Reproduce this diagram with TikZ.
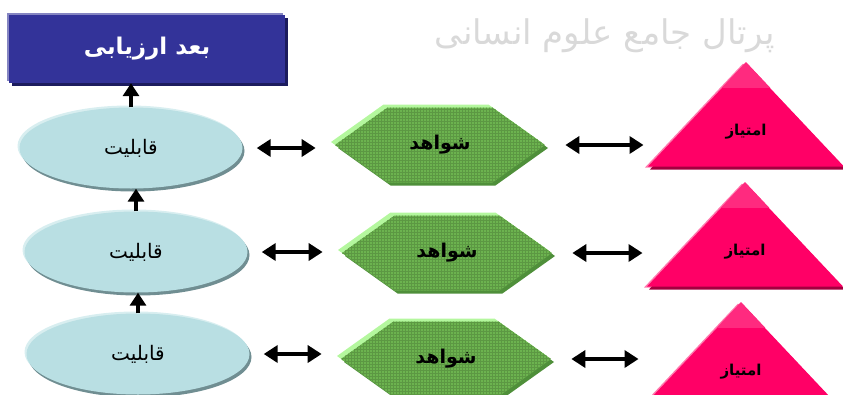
\documentclass[tikz,border=0pt]{standalone}
\usepackage{fontspec}
\usepackage{tikz}
\usetikzlibrary{shapes,shapes.symbols,shapes.geometric,arrows.meta}
\usetikzlibrary{positioning}
\usetikzlibrary{shadows,patterns}
\usetikzlibrary{calc}
\TeXXeTstate=1
\newfontfamily\farsi[Script=Arabic]{DejaVu Sans}
\newcommand{\fatext}[1]{{\farsi\beginR #1\endR}}
\definecolor{titleblue}{HTML}{333399}
\definecolor{titleedge}{HTML}{8585C2}
\definecolor{titleshade}{HTML}{1C1C5E}
\definecolor{ellfill}{HTML}{B9DFE3}
\definecolor{ellshade}{HTML}{708E92}
\definecolor{elledge}{HTML}{D8EEF0}
\definecolor{hexfill}{HTML}{6CB34F}
\definecolor{hexlight}{HTML}{B4F79E}
\definecolor{hexshade}{HTML}{4F8F3A}
\definecolor{trifill}{HTML}{FF0066}
\definecolor{tritop}{HTML}{FF2A7F}
\definecolor{trilight}{HTML}{FF7AAE}
\definecolor{trishade}{HTML}{A3003F}
\tikzstyle{flow} = [draw, line width=3.5pt, -{Triangle[length=13pt,width=16pt]}]
\tikzstyle{dflow} = [draw, line width=3.5pt,
{Triangle[length=14pt,width=17pt]}-{Triangle[length=14pt,width=17pt]}]

\begin{document}
\begin{tikzpicture}[x=1pt, y=-1pt,
	title/.style={fill=titleblue, minimum width=276pt, minimum height=68pt,
		text=white, font=\bfseries\fontsize{23}{27}\selectfont,
		general shadow={fill=titleedge, shadow xshift=-2pt, shadow yshift=2pt},
		general shadow={fill=titleshade, shadow xshift=3pt, shadow yshift=-3pt}},
	ability/.style={ellipse, fill=ellfill, minimum width=223pt, minimum height=81pt,
		font=\fontsize{20}{24}\selectfont,
		general shadow={fill=elledge, shadow xshift=-2pt, shadow yshift=2pt},
		general shadow={fill=ellshade, shadow xshift=2pt, shadow yshift=-3pt}},
	evidence/.style={signal, signal to=west and east, signal pointer angle=71,
		fill=hexfill, minimum width=210pt, minimum height=75pt,
		font=\bfseries\fontsize{19}{23}\selectfont,
		general shadow={fill=hexlight, shadow xshift=-4pt, shadow yshift=3pt},
		general shadow={fill=hexshade, shadow xshift=3pt, shadow yshift=-3pt},
		postaction={pattern=grid, pattern color=hexfill!85!black}},
	score/.style={isosceles triangle, isosceles triangle stretches,
		shape border rotate=90, fill=trifill, inner sep=0pt,
		minimum width=196pt, minimum height=104pt,
		font=\bfseries\fontsize{15}{18}\selectfont,
		general shadow={fill=trilight, shadow xshift=-3pt, shadow yshift=-1pt},
		general shadow={fill=trishade, shadow xshift=2pt, shadow yshift=-3pt}}]
	\useasboundingbox (0,0) rectangle (843,394);
	\node [text=black!15, font=\fontsize{34}{40}\selectfont] (wm) at (605,36) {\fatext{پرتال جامع علوم انسانی}};
	\node [title] (T) at (147,49) {\fatext{بعد ارزیابی}};
	%% Abilities
	\node [ability] (A1) at (131,148) {\fatext{قابلیت}};
	\node [ability] (A2) at (136,252) {\fatext{قابلیت}};
	\node [ability] (A3) at (138,354) {\fatext{قابلیت}};
	%% Evidence
	\node [evidence] (E1) at (440,145) {\fatext{شواهد}};
	\node [evidence] (E2) at (447,253) {\fatext{شواهد}};
	\node [evidence] (E3) at (446,359) {\fatext{شواهد}};
	%% Scores
	\node [score, anchor=apex] (S1) at (746,62) {\fatext{امتیاز}};
	\node [score, anchor=apex] (S2) at (745,182) {\fatext{امتیاز}};
	\node [score, anchor=apex] (S3) at (741,302) {\fatext{امتیاز}};
	% lighter band at the tips
	\foreach \s in {S1,S2,S3} {
		\begin{scope}
			\clip (\s.apex) -- (\s.left corner) -- (\s.right corner) -- cycle;
			\fill [tritop] ($(\s.apex)+(-40,0)$) rectangle ($(\s.apex)+(40,26)$);
		\end{scope}
	}
	%% Flows
	\path [flow] (A1.north) to (A1.north |- T.south);
	\path [flow] (A2.north) to (A2.north |- A1.south);
	\path [flow] (A3.north) to (A3.north |- A2.south);
	\path [dflow, shorten <=14pt, shorten >=19pt] (A1.east) to (A1.east -| E1.west);
	\path [dflow, shorten <=14pt, shorten >=19pt] (A2.east) to (A2.east -| E2.west);
	\path [dflow, shorten <=14pt, shorten >=19pt] (A3.east) to (A3.east -| E3.west);
	\path [dflow, shorten <=20pt, shorten >=4pt] (E1.east) to (E1.east -| S1.left corner);
	\path [dflow, shorten <=20pt, shorten >=4pt] (E2.east) to (E2.east -| S2.left corner);
	\path [dflow, shorten <=20pt, shorten >=4pt] (E3.east) to (E3.east -| S3.left corner);
\end{tikzpicture}
\end{document}
